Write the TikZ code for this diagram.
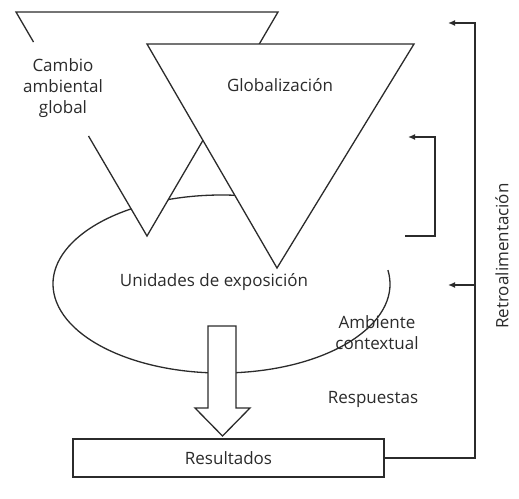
\documentclass[tikz,border=0pt]{standalone}
\usepackage{fontspec}
\setmainfont{Open Sans}
\usetikzlibrary{arrows.meta}
\definecolor{ink}{HTML}{2B2B2B}
\tikzset{
  shape line/.style={draw=ink, line width=1.3pt, line join=miter},
  lbl/.style={font=\fontsize{17}{21}\selectfont, text=ink, align=center, inner sep=0pt},
  fb/.style={draw=ink, line width=1.3pt, -{Latex[length=7pt,width=6pt]}},
}
\begin{document}
\begin{tikzpicture}[x=1pt,y=-1pt]
\useasboundingbox (0,0) rectangle (519,498);
% ellipse (open at lower right)
\draw[shape line] (221.5,284) ++(-9:168.5 and 89) arc[start angle=-9, end angle=299, x radius=168.5, y radius=89];
% triangle 1
\fill[white] (16,12) -- (278,12) -- (147,236) -- cycle;
\draw[shape line] (33.5,42) -- (16,12) -- (278,12) -- (147,236) -- (88.5,136);
% triangle 2
\draw[shape line, fill=white] (147,44) -- (414,44) -- (277,268) -- cycle;
% block arrow
\draw[shape line, fill=white] (208,326) -- (236,326) -- (236,408) -- (250,408) -- (222.5,436) -- (195,408) -- (208,408) -- cycle;
% result box
\node[shape line, fill=white, minimum width=311pt, minimum height=38pt, inner sep=0pt, lbl] (res) at (228.5,458) {Resultados};
% labels
\node[lbl] (cambio) at (63,88) {Cambio\\ambiental\\global};
\node[lbl] (glob) at (280,85) {Globalización};
\node[lbl] (unid) at (214,282) {Unidades de exposición};
\node[lbl] (amb) at (377,333) {Ambiente\\contextual};
\node[lbl] (resp) at (373,399) {Respuestas};
\node[lbl, rotate=90] (retro) at (502,256) {Retroalimentación};
% feedback
\coordinate (c1) at (475,458);
\coordinate (t1) at (448,23);
\coordinate (t2) at (448,285);
\coordinate (b0) at (405,236);
\coordinate (b1) at (408,137);
\draw[fb] (res.east) -- (c1) |- (t1);
\draw[fb] (c1 |- t2) -- (t2);
\draw[fb] (b0) -| (435,137) -- (b1);
\end{tikzpicture}
\end{document}
